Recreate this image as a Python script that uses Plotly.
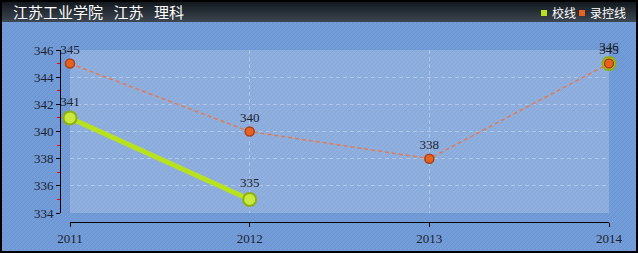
import plotly.graph_objects as go
import urllib.parse

years = [2011, 2012, 2013, 2014]
school_line = [341, 335, None, 345]
school_labels = ["341", "335", "", "346"]
control_line = [345, 340, 338, 345]
control_labels = ["345", "340", "338", "345"]
y_ticks = [334, 336, 338, 340, 342, 344, 346]
title_text = "江苏工业学院\u2002\u2009江苏\u2002\u2009理科"
legend_names = ["校线", "录控线"]

W, H = 638, 253
ML, MR, MT, MB = 60, 29, 50, 31
PW, PH = W - ML - MR, H - MT - MB

svg = f'''<svg xmlns="http://www.w3.org/2000/svg" width="{W}" height="{H}" viewBox="0 0 {W} {H}" preserveAspectRatio="none">
<defs>
<linearGradient id="g" x1="0" y1="0" x2="0" y2="1">
<stop offset="0" stop-color="#0e1318"/><stop offset="1" stop-color="#3d4752"/></linearGradient>
<pattern id="p" width="4" height="4" patternUnits="userSpaceOnUse">
<rect width="4" height="4" fill="#739dd8"/>
<path d="M-1,1 l2,-2 M0,4 l4,-4 M3,5 l2,-2" stroke="#6a93cf" stroke-width="1"/>
</pattern>
</defs>
<rect x="0" y="0" width="{W}" height="{H}" fill="url(#p)"/>
<rect x="0" y="0" width="{W}" height="22" fill="url(#g)"/>
<rect x="70" y="50" width="539" height="163" fill="#ffffff" fill-opacity="0.2"/>
<rect x="1" y="1" width="{W-2}" height="{H-2}" fill="none" stroke="#000" stroke-width="2"/>
</svg>'''
src = "data:image/svg+xml;charset=utf-8," + urllib.parse.quote(svg)

def px_x(p):
    return (p - ML) / PW

def px_y(p):
    return (H - MB - p) / PH

fig = go.Figure()

fig.add_trace(go.Scatter(
    x=years, y=school_line, mode="lines+markers+text", text=school_labels,
    textposition="top center", connectgaps=False, name=legend_names[0],
    line=dict(color="#b9e21e", width=5),
    marker=dict(size=13, color="#c9e93c", line=dict(color="#8fb010", width=2)),
    textfont=dict(family="Liberation Serif", size=13, color="#1c2230"),
    cliponaxis=False, showlegend=False,
))
fig.add_trace(go.Scatter(
    x=years, y=control_line, mode="lines+markers+text", text=control_labels,
    textposition="top center", name=legend_names[1],
    line=dict(color="#e8784c", width=1.5, dash="4px,3px"),
    marker=dict(size=9, color="#e8621e", line=dict(color="#a8401a", width=1.5)),
    textfont=dict(family="Liberation Serif", size=13, color="#1c2230"),
    cliponaxis=False, showlegend=False,
))

axis_font = dict(family="Liberation Serif", size=13, color="#1c2230")
fig.update_layout(
    width=W, height=H,
    margin=dict(l=ML, r=MR, t=MT, b=MB, pad=0, autoexpand=False),
    paper_bgcolor="#739dd8",
    plot_bgcolor="rgba(0,0,0,0)",
    xaxis=dict(
        domain=[10 / PW, 1], anchor="free", position=0, automargin=False,
        range=[2011, 2014], tickvals=years, ticktext=[str(y) for y in years],
        showline=True, linecolor="#000", linewidth=1,
        ticks="outside", ticklen=4, tickcolor="#000",
        showgrid=True, gridcolor="rgba(255,255,255,0.3)", griddash="4px,3px",
        zeroline=False, tickfont=axis_font, fixedrange=True,
    ),
    yaxis=dict(
        domain=[9 / PH, 1], anchor="free", position=0, automargin=False,
        range=[334, 346], tickvals=y_ticks,
        showline=True, linecolor="#000", linewidth=1,
        ticks="outside", ticklen=4, tickcolor="#000",
        minor=dict(ticks="outside", ticklen=3, tickcolor="#ff0000", dtick=1, showgrid=False),
        showgrid=True, gridcolor="rgba(255,255,255,0.3)", griddash="4px,3px",
        zeroline=False, tickfont=axis_font, fixedrange=True,
    ),
    images=[dict(
        source=src, xref="paper", yref="paper",
        x=px_x(0), y=px_y(0), sizex=W / PW, sizey=H / PH,
        xanchor="left", yanchor="top", sizing="stretch", layer="below",
    )],
    showlegend=False,
)

fig.add_annotation(
    text=title_text, xref="paper", yref="paper", x=px_x(11), y=px_y(11),
    xanchor="left", yanchor="middle", showarrow=False,
    font=dict(family="Noto Sans CJK SC", size=15, color="#ffffff"),
)

legend_colors = ["#b9e21e", "#e8621e"]
legend_x = [541, 579]
for name, col, lx in zip(legend_names, legend_colors, legend_x):
    fig.add_shape(type="rect", xref="paper", yref="paper",
                  x0=px_x(lx), x1=px_x(lx + 6), y0=px_y(16), y1=px_y(10),
                  fillcolor=col, line=dict(width=0))
    fig.add_annotation(
        text=name, xref="paper", yref="paper", x=px_x(lx + 9), y=px_y(12),
        xanchor="left", yanchor="middle", showarrow=False,
        font=dict(family="Noto Sans CJK SC", size=12, color="#ffffff"),
    )

fig.write_html("out.html", config={"displayModeBar": False})
